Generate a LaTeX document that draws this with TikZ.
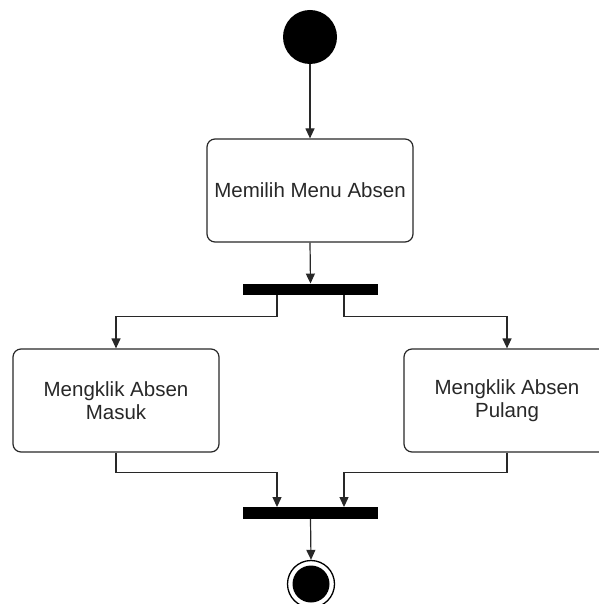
\documentclass[tikz,border=0pt]{standalone}
\usepackage{fontspec}
\setmainfont{Liberation Sans}
\usetikzlibrary{arrows.meta}
\definecolor{ink}{RGB}{40,40,40}
\tikzset{
  activity/.style={draw=ink, line width=1.2pt, rounded corners=8pt, fill=white,
    minimum width=206pt, minimum height=103pt, align=center, text=ink,
    font=\fontsize{20.5}{23}\selectfont, inner sep=0pt},
  syncbar/.style={fill=black, draw=none, minimum width=135pt, minimum height=11.5pt, inner sep=0pt},
  flow/.style={draw=ink, line width=1.2pt, -{Triangle[length=10pt,width=9pt]}},
}
\begin{document}
\begin{tikzpicture}[x=1pt,y=-1pt]
  \useasboundingbox (0,0) rectangle (598,604);
  % start node
  \node[circle, fill=black, minimum size=54pt, inner sep=0pt] (start) at (310,37) {};
  % activities
  \node[activity] (menu) at (310,190.5) {Memilih Menu Absen};
  \node[syncbar] (fork) at (310.5,289.5) {};
  \node[activity] (masuk) at (116,400.5) {Mengklik Absen\\Masuk};
  \node[activity] (pulang) at (507,400.5) {Mengklik Absen\\Pulang};
  \node[syncbar] (join) at (310.5,513) {};
  % final node
  \node[circle, draw=black, line width=1.3pt, fill=white, minimum size=47pt, inner sep=0pt] (final) at (311,584) {};
  \node[circle, fill=black, minimum size=37pt, inner sep=0pt] (finaldot) at (final.center) {};
  % flows
  \draw[flow] (start.south) -- (menu.north);
  \draw[flow] (menu.south) -- (fork.north);
  \draw[flow] ([xshift=-33.5pt]fork.south) -- ++(0,21) -| (masuk.north);
  \draw[flow] ([xshift=33.5pt]fork.south) -- ++(0,21) -| (pulang.north);
  \draw[flow] (masuk.south) -- ++(0,20) -| ([xshift=-33.5pt]join.north);
  \draw[flow] (pulang.south) -- ++(0,20) -| ([xshift=33.5pt]join.north);
  \draw[flow] (join.south) -- (final.north);
\end{tikzpicture}
\end{document}
